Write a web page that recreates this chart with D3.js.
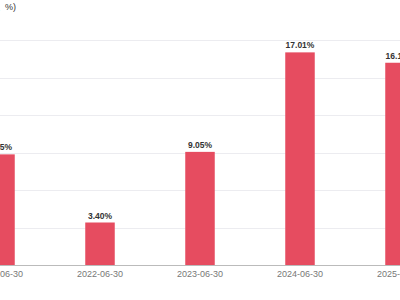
<!DOCTYPE html>
<html>
<head>
<meta charset="utf-8">
<script src="https://cdn.jsdelivr.net/npm/d3@7"></script>
<style>
  html, body { margin: 0; padding: 0; background: #fff; overflow: hidden; }
  svg { display: block; font-family: "Liberation Sans", Arial, sans-serif; }
</style>
</head>
<body>
<div id="container"></div>
<script>
// data
var dates = ["2021-06-30", "2022-06-30", "2023-06-30", "2024-06-30", "2025-06-30"];
var values = [8.85, 3.40, 9.05, 17.01, 16.18];
var labels = ["8.85%", "3.40%", "9.05%", "17.01%", "16.18%"];
var yTicks = [0, 3, 6, 9, 12, 15, 18];

(function(){
    var width = 400, height = 300;
    var top = 40, bottom = 265;

    var svg = d3.select("#container")
        .append("svg")
        .attr("width", width)
        .attr("height", height);

    //band scale wider than the window, so first and last bars get cut like the reference
    var x = d3.scaleBand()
        .domain(dates)
        .range([-50, 450])
        .paddingInner(0.705)
        .paddingOuter(0.3525);

    var y = d3.scaleLinear()
        .domain([0, 18])
        .range([bottom, top]);

    //grid lines
    svg.append("g")
        .selectAll("line")
        .data(yTicks.filter(function(d){ return d > 0; }))
        .enter().append("line")
        .attr("x1", 0).attr("x2", width)
        .attr("y1", function(d){ return Math.round(y(d)) + 0.5; })
        .attr("y2", function(d){ return Math.round(y(d)) + 0.5; })
        .attr("stroke", "#ececf0")
        .attr("stroke-width", 1);

    //bars
    svg.append("g")
        .selectAll("rect")
        .data(values)
        .enter().append("rect")
        .attr("x", function(d, i){ return x(dates[i]); })
        .attr("width", x.bandwidth())
        .attr("y", function(d){ return y(d); })
        .attr("height", function(d){ return y(0) - y(d); })
        .attr("fill", "#e64c60");

    //value labels
    svg.append("g")
        .selectAll("text")
        .data(values)
        .enter().append("text")
        .attr("x", function(d, i){ return x(dates[i]) + x.bandwidth() / 2; })
        .attr("y", function(d){ return y(d) - 4; })
        .attr("text-anchor", "middle")
        .attr("font-size", "8.5px")
        .attr("font-weight", "bold")
        .attr("fill", "#333")
        .text(function(d, i){ return labels[i]; });

    //x axis
    var xAxis = svg.append("g")
        .attr("transform", "translate(0," + bottom + ")")
        .call(d3.axisBottom(x).tickSize(0).tickPadding(6));
    xAxis.select(".domain").remove();
    xAxis.selectAll("text")
        .attr("font-size", "9px")
        .attr("font-family", "Liberation Sans, Arial, sans-serif")
        .attr("fill", "#777");
    svg.append("line")
        .attr("x1", 0).attr("x2", width)
        .attr("y1", bottom + 0.5).attr("y2", bottom + 0.5)
        .attr("stroke", "#bbb")
        .attr("stroke-width", 1);

    //unit title, cut at the left edge so only "%)" shows
    svg.append("text")
        .attr("x", 16)
        .attr("y", 10)
        .attr("text-anchor", "end")
        .attr("xml:space", "preserve")
        .style("white-space", "pre")
        .attr("font-size", "9px")
        .attr("fill", "#333")
        .text("(单位  %)");
})();
</script>
</body>
</html>
